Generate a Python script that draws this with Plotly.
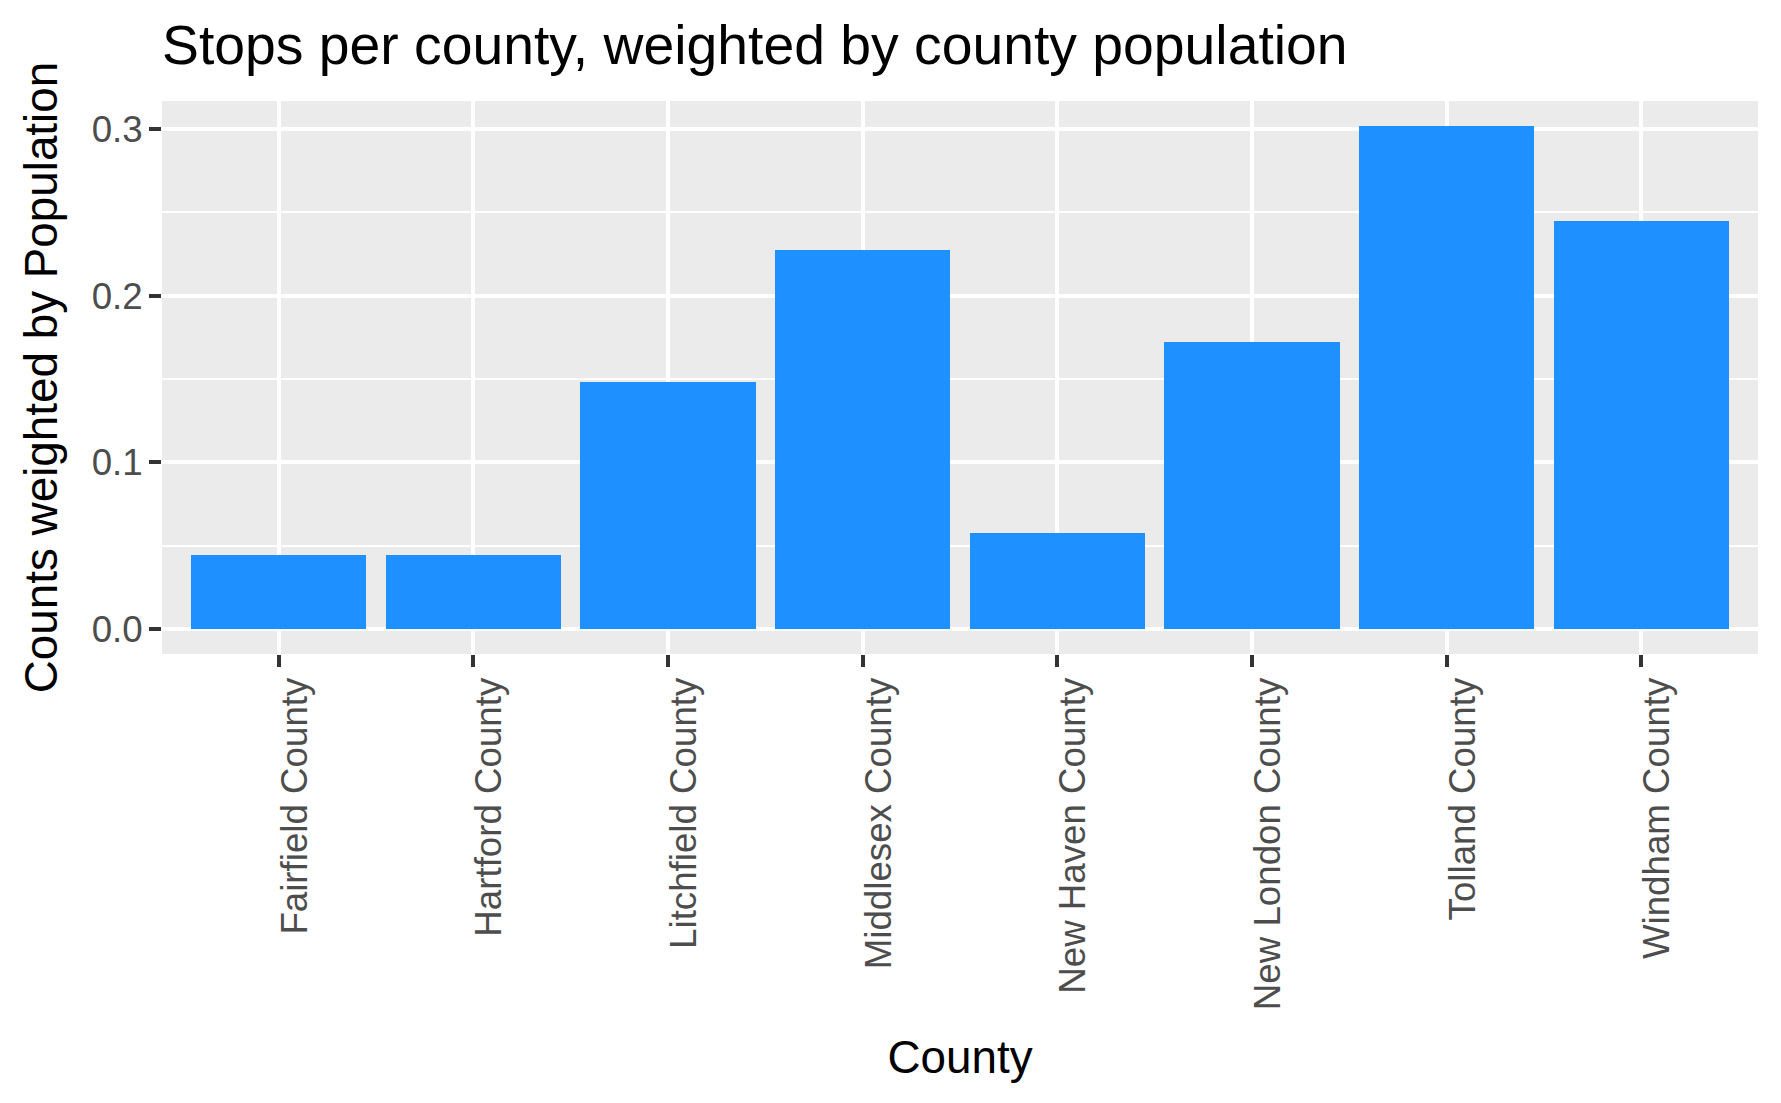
import plotly.graph_objects as go

counties = ["Fairfield County", "Hartford County", "Litchfield County", "Middlesex County",
            "New Haven County", "New London County", "Tolland County", "Windham County"]
weighted_counts = [0.0444, 0.0444, 0.148, 0.2274, 0.0575, 0.172, 0.3018, 0.2449]
y_ticks = [0.0, 0.1, 0.2, 0.3]
y_tick_labels = ["0.0", "0.1", "0.2", "0.3"]

W, H = 1781, 1103
FONT = "Liberation Sans, Arial, sans-serif"

fig = go.Figure(go.Bar(
    x=counties, y=weighted_counts, width=0.9,
    marker=dict(color="#1E90FF", line=dict(width=0)),
))

ymax = max(weighted_counts)
fig.update_layout(
    width=W, height=H,
    margin=dict(l=162, r=23, t=101, b=449, pad=0),
    paper_bgcolor="white", plot_bgcolor="#EBEBEB",
    showlegend=False, bargap=0,
    font=dict(family=FONT),
    title=dict(text="Stops per county, weighted by county population",
               font=dict(size=55.3, color="black", family=FONT),
               xref="container", x=162 / W, xanchor="left",
               yref="container", y=1 - 45 / H, yanchor="middle"),
)

fig.update_xaxes(
    type="category", range=[-0.6, 7.6],
    showgrid=True, gridcolor="white", gridwidth=4,
    ticks="outside", ticklen=12, tickwidth=4, tickcolor="#333333",
    tickangle=-90, ticklabelshift=16, ticklabelstandoff=-4,
    tickfont=dict(size=36.7, color="#4D4D4D", family=FONT),
    showline=False, zeroline=False,
    title=dict(text="County", font=dict(size=45.8, color="black", family=FONT), standoff=31),
)
fig.update_yaxes(
    range=[-0.05 * ymax, 1.05 * ymax],
    tickvals=y_ticks, ticktext=y_tick_labels,
    showgrid=True, gridcolor="white", gridwidth=4,
    minor=dict(showgrid=True, gridcolor="white", gridwidth=2, dtick=0.05, tick0=0.05, ticks=""),
    ticks="outside", ticklen=12, tickwidth=4, tickcolor="#333333",
    ticklabelstandoff=-1,
    tickfont=dict(size=36.7, color="#4D4D4D", family=FONT),
    showline=False, zeroline=False,
    title=dict(text="Counts weighted by Population", font=dict(size=45.8, color="black", family=FONT), standoff=19),
)

fig.write_html("out.html")
